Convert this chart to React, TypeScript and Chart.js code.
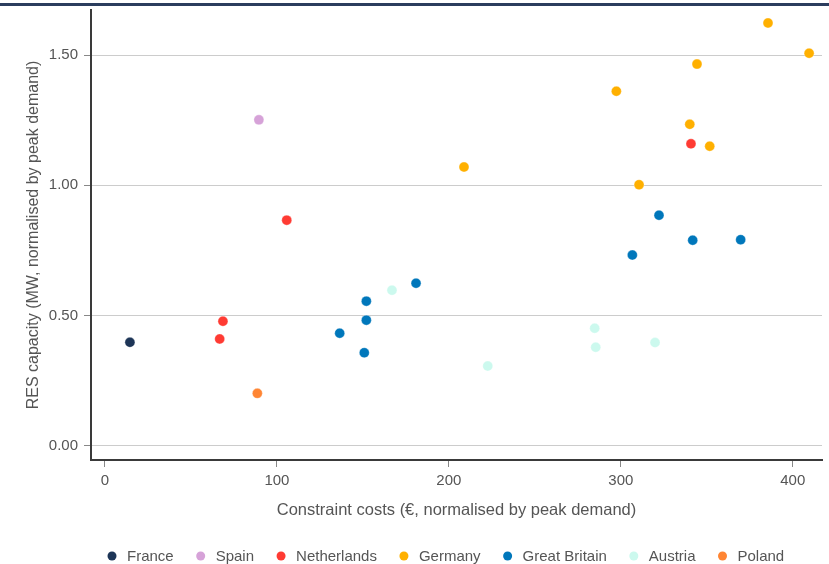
import React, { useEffect, useRef } from "react";
import { Chart, registerables } from "chart.js";

Chart.register(...registerables);

const countries = ["France", "Spain", "Netherlands", "Germany", "Great Britain", "Austria", "Poland"];
const colors = ["#1d3557", "#d6a2d8", "#ff3b33", "#ffb000", "#0077bb", "#ccf9ee", "#ff8533"];

const franceX = [14.5];
const franceY = [0.397];
const spainX = [89.5];
const spainY = [1.251];
const netherlandsX = [105.7, 68.6, 66.7, 340.8];
const netherlandsY = [0.866, 0.478, 0.41, 1.159];
const germanyX = [385.6, 409.5, 344.3, 297.4, 340.1, 351.7, 310.6, 208.8];
const germanyY = [1.623, 1.507, 1.465, 1.361, 1.234, 1.15, 1.002, 1.07];
const britainX = [322.2, 341.8, 369.7, 306.7, 180.9, 152.0, 152.0, 136.5, 150.8];
const britainY = [0.885, 0.789, 0.791, 0.732, 0.624, 0.555, 0.482, 0.432, 0.357];
const austriaX = [166.9, 284.8, 285.4, 222.6, 319.9];
const austriaY = [0.597, 0.451, 0.378, 0.306, 0.396];
const polandX = [88.6];
const polandY = [0.201];

const xTicks = [0, 100, 200, 300, 400];
const yTicks = [0, 0.5, 1.0, 1.5];

const xTitle = "Constraint costs (€, normalised by peak demand)";
const yTitle = "RES capacity (MW, normalised by peak demand)";

const seriesX = [franceX, spainX, netherlandsX, germanyX, britainX, austriaX, polandX];
const seriesY = [franceY, spainY, netherlandsY, germanyY, britainY, austriaY, polandY];

const FONT = '"Liberation Sans", Arial, sans-serif';

export default function App() {
  const ref = useRef<HTMLCanvasElement>(null);

  useEffect(() => {
    const canvas = ref.current;
    if (!canvas) return;

    const topRule = {
      id: "topRule",
      afterDraw(chart: any) {
        const ctx = chart.ctx;
        ctx.save();
        ctx.fillStyle = "#2b3d5e";
        ctx.fillRect(0, 3, chart.width, 3);
        ctx.restore();
      },
    };

    const bottomLegend = {
      id: "bottomLegend",
      afterDraw(chart: any) {
        const ctx = chart.ctx;
        ctx.save();
        ctx.font = `15px ${FONT}`;
        ctx.textBaseline = "middle";
        ctx.textAlign = "left";
        let x = 112;
        const y = 557;
        chart.data.datasets.forEach((ds: any) => {
          ctx.beginPath();
          ctx.fillStyle = ds.backgroundColor;
          ctx.arc(x, y - 1, 4.5, 0, Math.PI * 2);
          ctx.fill();
          ctx.fillStyle = "#555555";
          ctx.fillText(ds.label, x + 15, y);
          x += 15 + ctx.measureText(ds.label).width + 27;
        });
        ctx.restore();
      },
    };

    const chart = new Chart(canvas, {
      type: "scatter",
      data: {
        datasets: countries.map((name, i) => ({
          label: name,
          data: seriesX[i].map((x, j) => ({ x, y: seriesY[i][j] })),
          backgroundColor: colors[i],
          borderColor: "rgba(255,255,255,0.6)",
          borderWidth: 0.5,
          pointRadius: 5,
          pointHoverRadius: 5,
        })),
      },
      options: {
        responsive: false,
        animation: false,
        layout: { padding: { top: 10, right: 7, left: 0, bottom: 44 } },
        plugins: {
          legend: { display: false },
          tooltip: { enabled: false },
        },
        scales: {
          x: {
            type: "linear",
            min: -8.14,
            max: 417,
            afterFit: (scale: any) => {
              scale.height = 60;
              scale.paddingLeft = 0;
              scale.paddingRight = 0;
            },
            afterBuildTicks: (scale: any) => {
              scale.ticks = xTicks.map((v) => ({ value: v }));
            },
            ticks: {
              color: "#555555",
              font: { family: FONT, size: 15 },
              padding: 5,
              callback: (v: any) => String(v),
            },
            grid: {
              drawOnChartArea: false,
              drawTicks: true,
              tickLength: 7,
              tickColor: "#888888",
            },
            border: { display: true, color: "#3a3a3a", width: 2 },
            title: {
              display: true,
              text: xTitle,
              color: "#555555",
              font: { family: FONT, size: 16.5 },
              padding: { top: 0, bottom: 0 },
            },
          },
          y: {
            type: "linear",
            min: -0.0549,
            max: 1.6728,
            afterFit: (scale: any) => {
              scale.width = 91;
              scale.paddingTop = 0;
              scale.paddingBottom = 0;
            },
            afterBuildTicks: (scale: any) => {
              scale.ticks = yTicks.map((v) => ({ value: v }));
            },
            ticks: {
              color: "#555555",
              font: { family: FONT, size: 15 },
              padding: 6,
              callback: (v: any) => Number(v).toFixed(2),
            },
            grid: {
              drawOnChartArea: true,
              color: "#cccccc",
              lineWidth: 1,
              drawTicks: true,
              tickLength: 7,
              tickColor: "#888888",
            },
            border: { display: true, color: "#3a3a3a", width: 2 },
            title: {
              display: true,
              text: yTitle,
              color: "#555555",
              font: { family: FONT, size: 16 },
              padding: { top: 24, bottom: 0 },
            },
          },
        },
      },
      plugins: [topRule, bottomLegend],
    });

    return () => chart.destroy();
  }, []);

  return (
    <div style={{ position: "fixed", left: 0, top: 0, width: 829, height: 564, background: "#ffffff" }}>
      <canvas ref={ref} width={829} height={564} style={{ display: "block" }} />
    </div>
  );
}
